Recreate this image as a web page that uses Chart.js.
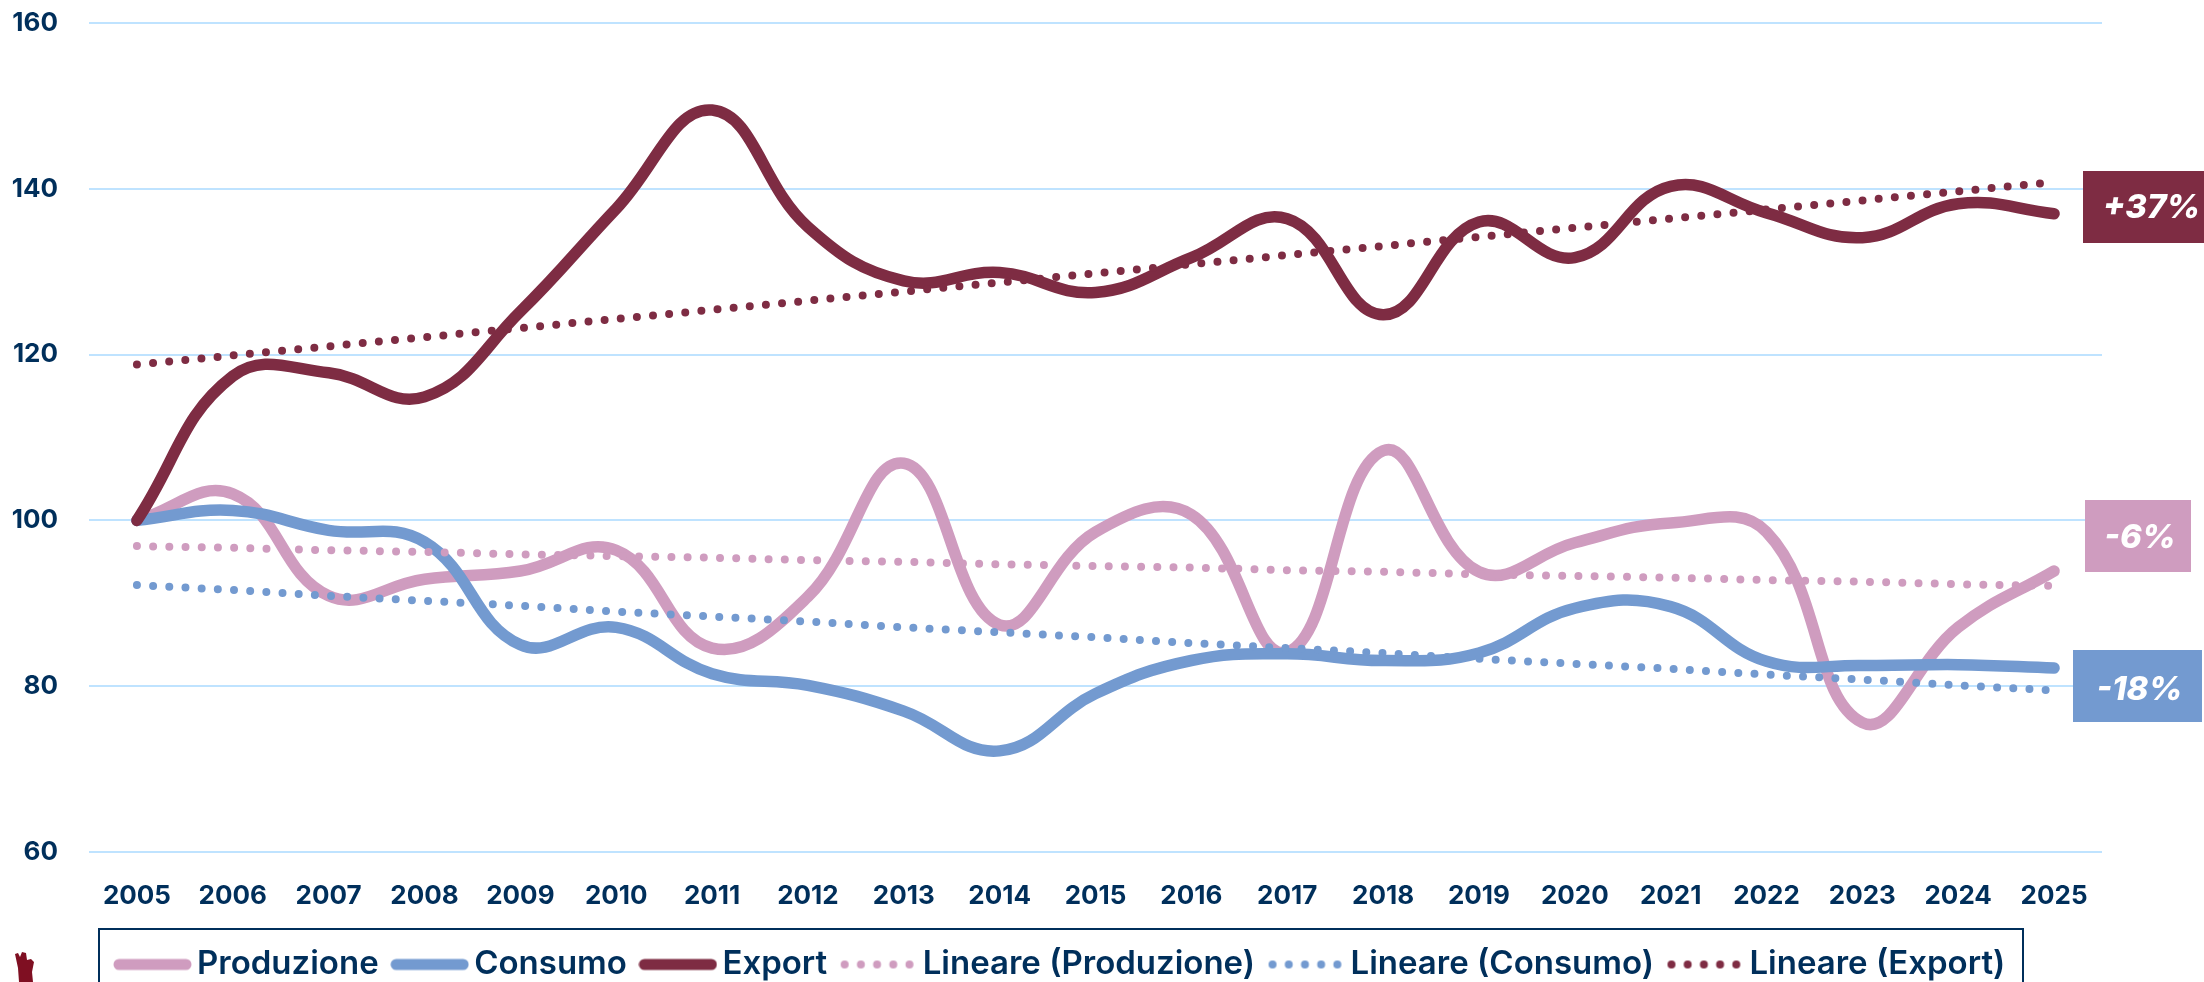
<!DOCTYPE html>
<html><head><meta charset="utf-8">
<style>html,body{margin:0;padding:0;background:#fff;overflow:hidden}#w{position:relative;width:2204px;height:982px}</style>
<script src="https://cdn.jsdelivr.net/npm/chart.js@4/dist/chart.umd.min.js"></script>
</head><body><div id="w"><canvas id="c" width="2204" height="982"></canvas></div>
<script>
const years=['2005','2006','2007','2008','2009','2010','2011','2012','2013','2014','2015','2016','2017','2018','2019','2020','2021','2022','2023','2024','2025'];
const produzione=[100,103.2,90.9,92.9,93.9,96.4,84.6,90.8,106.9,87.4,98.6,100.7,84.1,108.4,93.8,97.3,99.7,98.6,75.6,87.1,93.9];
const consumo=[100,101.2,98.8,97.4,85,87.1,81.5,80.1,77,72.2,79.1,83.1,83.9,83.1,84,89.4,89.6,83,82.5,82.6,82.2];
const exportVals=[100,117.4,117.8,114.9,125.2,137.6,149.5,135.4,128.9,129.9,127.5,131.7,136.4,124.8,136,131.7,140.3,137.1,134.1,138.2,137];
const linProduzione=[96.9,96.7,96.4,96.2,95.9,95.7,95.5,95.2,95,94.7,94.5,94.3,94,93.8,93.5,93.3,93.1,92.8,92.6,92.3,92.1];
const linConsumo=[92.2,91.6,90.9,90.3,89.7,89,88.4,87.8,87.1,86.5,85.9,85.2,84.6,84,83.3,82.7,82.1,81.4,80.8,80.1,79.5];
const linExport=[118.8,119.9,121,122.1,123.2,124.3,125.4,126.5,127.6,128.7,129.8,130.9,132,133.1,134.2,135.3,136.4,137.5,138.6,139.7,140.8];
const yTicks=[60,80,100,120,140,160];
const badges=[['+37%',2083,171,121,72,'#7E2C43',8,1],['-6%',2085,500,106,72,'#CF9CBF',2,2],['-18%',2073,650,129,72,'#739AD0',2,4]];
const PINK='#CF9CBF',BLUE='#739AD0',MAROON='#7E2C43',NAVY='#002F5B',GRID='#BFE3FF';
const FONT='Inter';
const LEGEND_SIZE=33;

function swatch(color,dotted){
  const c=document.createElement('canvas');c.width=79;c.height=14;
  const x=c.getContext('2d');x.strokeStyle=color;x.lineCap='round';
  if(dotted){x.lineWidth=8;x.setLineDash([0,16.2]);x.beginPath();x.moveTo(6,7);x.lineTo(74,7);x.stroke();}
  else{x.lineWidth=11;x.beginPath();x.moveTo(6,7);x.lineTo(73,7);x.stroke();}
  return c;
}
function solid(label,data,color,order){return {label,data,borderColor:color,backgroundColor:color,borderWidth:11.5,tension:0.42,pointRadius:0,borderCapStyle:'round',borderJoinStyle:'round',fill:false,order};}
function dotted(label,data,color,order){return {label,data,borderColor:color,backgroundColor:color,borderWidth:8,tension:0,pointRadius:0,borderDash:[0,16.2],borderCapStyle:'round',fill:false,order};}

const overlay={id:'overlay',
  afterLayout(ch){const l=ch.legend;const dy=925-l.top;l.top+=dy;l.bottom+=dy;l.left=101.5;},
  afterDraw(ch){
    const x=ch.ctx;x.save();
    x.strokeStyle=NAVY;x.lineWidth=2;x.strokeRect(99,929,1924,80);
    x.textAlign='center';x.textBaseline='middle';
    for(const [t,bx,by,bw,bh,col,ox,oy] of badges){
      x.fillStyle=col;x.fillRect(bx,by,bw,bh);
      x.fillStyle='#fff';x.font='italic 800 33px "'+FONT+'"';
      x.fillText(t,bx+bw/2+ox,by+bh/2+oy);
    }
    x.fillStyle='#7F0F22';x.beginPath();
    x.moveTo(15,954);x.lineTo(18,953);x.lineTo(20,957);x.lineTo(22,952);x.lineTo(26,953);x.lineTo(27,960);x.lineTo(31,959);x.lineTo(34,962);x.lineTo(32,972);x.lineTo(33,982);x.lineTo(19,982);x.lineTo(18,968);x.closePath();x.fill();
    x.restore();
  }
};

new Chart(document.getElementById('c'),{
  type:'line',
  data:{labels:years,datasets:[
    solid('Produzione',produzione,PINK,6),
    solid('Consumo',consumo,BLUE,5),
    solid('Export',exportVals,MAROON,4),
    dotted('Lineare (Produzione)',linProduzione,PINK,3),
    dotted('Lineare (Consumo)',linConsumo,BLUE,2),
    dotted('Lineare (Export)',linExport,MAROON,1)
  ]},
  options:{
    responsive:false,animation:false,
    layout:{padding:{left:0,right:102,top:0,bottom:0}},
    plugins:{
      tooltip:{enabled:false},
      legend:{display:true,position:'bottom',align:'start',
        labels:{usePointStyle:true,pointStyleWidth:56,boxHeight:14,padding:23,color:NAVY,
          font:{family:FONT,size:LEGEND_SIZE,weight:'600'},
          generateLabels(ch){return ch.data.datasets.map((d,i)=>({text:d.label,fontColor:NAVY,strokeStyle:'transparent',fillStyle:'transparent',lineWidth:0,hidden:false,datasetIndex:i,pointStyle:swatch(d.borderColor,!!d.borderDash)}));}
        }}
    },
    scales:{
      x:{offset:true,grid:{display:false,drawTicks:false},border:{display:false},
        afterFit(s){s.height=64;},
        ticks:{color:NAVY,padding:29,autoSkip:false,maxRotation:0,font:{family:FONT,size:26,weight:'700'}}},
      y:{min:60,max:160,afterFit(s){s.width=89;s.paddingTop=23;s.paddingBottom=0;},
        afterBuildTicks(s){s.ticks=yTicks.map(v=>({value:v}));},
        grid:{color:GRID,lineWidth:2,drawTicks:false},border:{display:false},
        ticks:{color:NAVY,padding:31,font:{family:FONT,size:26,weight:'700'}}}
    }
  },
  plugins:[overlay]
});
</script></body></html>
